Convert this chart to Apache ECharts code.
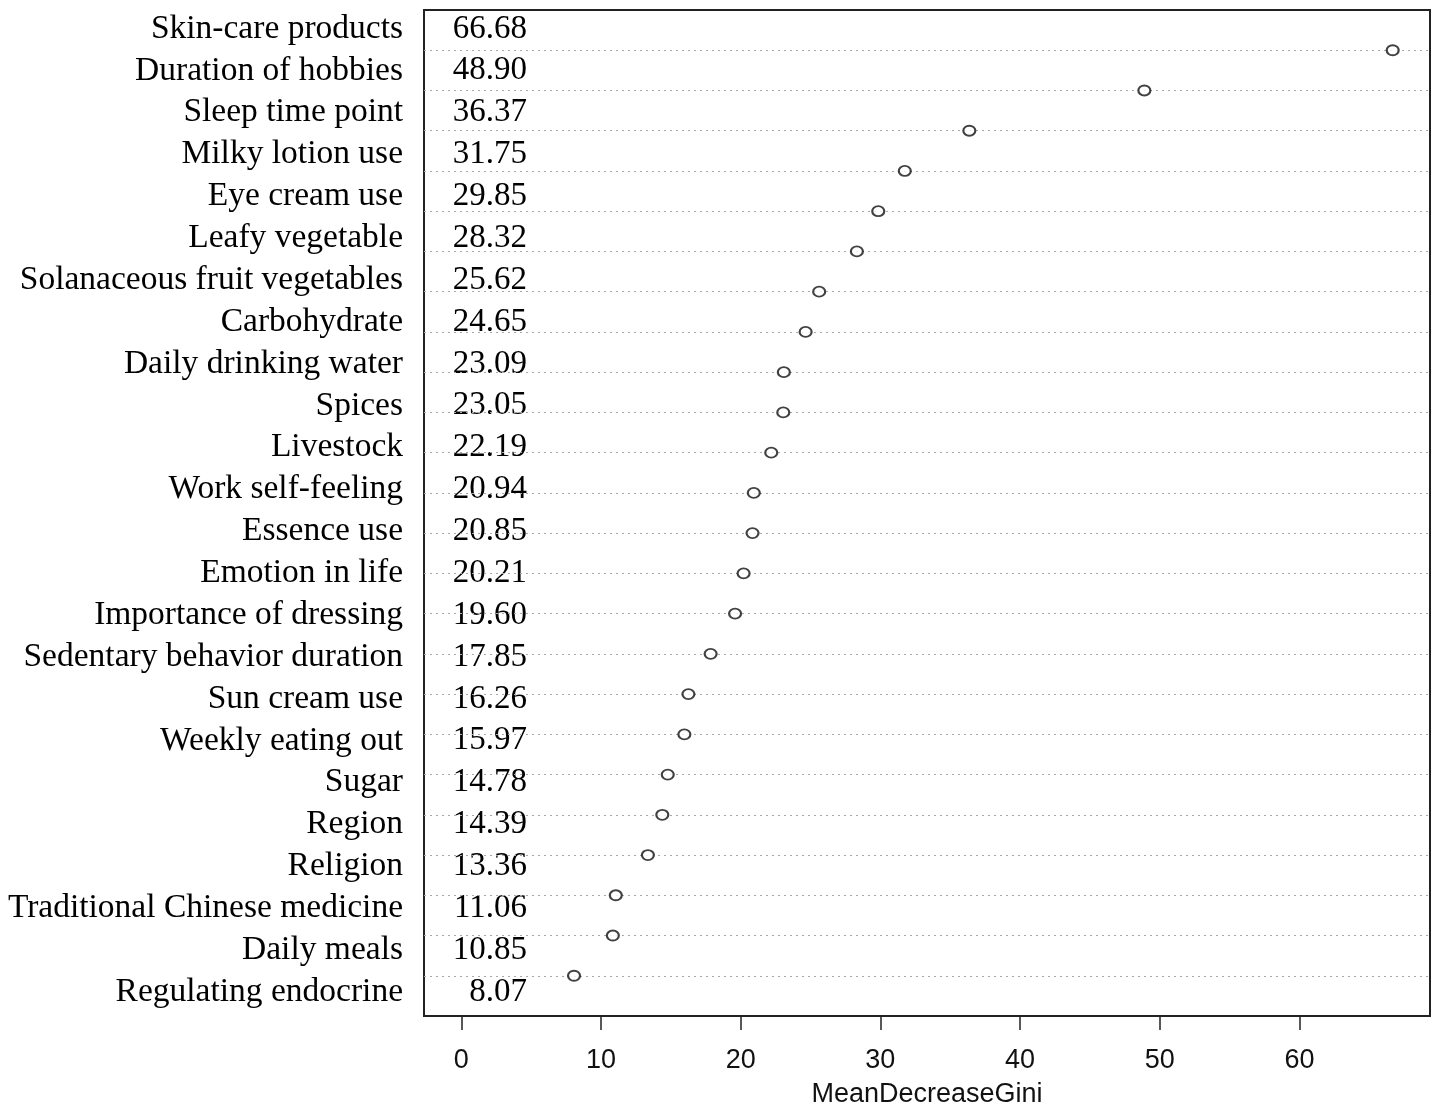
<!DOCTYPE html>
<html>
<head>
<meta charset="utf-8">
<script src="https://cdn.jsdelivr.net/npm/echarts@6/dist/echarts.min.js"></script>
<style>
html,body{margin:0;padding:0;background:#fff;}
#chart{width:1442px;height:1107px;}
</style>
</head>
<body>
<div id="chart"></div>
<script>
const categories = [
  "Skin-care products","Duration of hobbies","Sleep time point","Milky lotion use",
  "Eye cream use","Leafy vegetable","Solanaceous fruit vegetables","Carbohydrate",
  "Daily drinking water","Spices","Livestock","Work self-feeling","Essence use",
  "Emotion in life","Importance of dressing","Sedentary behavior duration",
  "Sun cream use","Weekly eating out","Sugar","Region","Religion",
  "Traditional Chinese medicine","Daily meals","Regulating endocrine"
];
const values = [66.68,48.90,36.37,31.75,29.85,28.32,25.62,24.65,23.09,23.05,22.19,20.94,20.85,20.21,19.60,17.85,16.26,15.97,14.78,14.39,13.36,11.06,10.85,8.07];
const xTicks = [0,10,20,30,40,50,60];

const n = categories.length;
const ranks = categories.map((c,i)=> n - i);
const points = values.map((v,i)=>[v, ranks[i]]);
const valueLabels = values.map(v=>v.toFixed(2));

const chart = echarts.init(document.getElementById('chart'), null, {renderer:'canvas'});
const serif = '"Liberation Serif","Times New Roman",serif';
const sans = '"Liberation Sans",Arial,sans-serif';
chart.setOption({
  animation:false,
  backgroundColor:'#fff',
  grid:[
    {left:424, top:10, width:1006, height:1006, show:true, borderColor:'#222', borderWidth:2, backgroundColor:'transparent', outerBoundsMode:'none', containLabel:false},
    {left:424, top:8, width:1006, height:1005, show:false, outerBoundsMode:'none', containLabel:false}
  ],
  xAxis:[
    {type:'value', gridIndex:0, min:-2.67, max:69.35, position:'bottom',
     axisLine:{show:false},
     axisTick:{show:true, customValues:xTicks, length:14, lineStyle:{color:'#222', width:1.5}},
     axisLabel:{show:true, customValues:xTicks, margin:31, color:'#111', fontSize:27, fontFamily:sans},
     splitLine:{show:false},
     name:'MeanDecreaseGini', nameLocation:'middle', nameGap:65,
     nameTextStyle:{color:'#111', fontSize:27, fontFamily:sans}},
    {type:'value', gridIndex:1, show:false, min:0, max:1}
  ],
  yAxis:[
    {type:'value', gridIndex:0, min:0, max:n+1, axisLine:{show:false}, axisTick:{show:false}, axisLabel:{show:false}, splitLine:{show:false}},
    {type:'category', gridIndex:1, data:categories, inverse:true, position:'left',
     axisLine:{show:false}, axisTick:{show:false}, splitLine:{show:false},
     axisLabel:{interval:0, hideOverlap:false, margin:21, color:'#000', fontSize:33.5, fontFamily:serif}},
    {type:'category', gridIndex:1, data:valueLabels, inverse:true, position:'left', offset:-103,
     axisLine:{show:false}, axisTick:{show:false}, splitLine:{show:false},
     axisLabel:{interval:0, hideOverlap:false, margin:0, color:'#000', fontSize:33, fontFamily:serif, align:'right'}}
  ],
  series:[
    {type:'scatter', xAxisIndex:0, yAxisIndex:0, data:points,
     symbol:'circle', symbolSize:[12,10],
     itemStyle:{color:'#fff', borderColor:'#111', borderWidth:2},
     z:5,
     markLine:{silent:true, symbol:'none', label:{show:false},
       lineStyle:{color:'#a8a8a8', width:1.2, type:[2,4]},
       data: ranks.map(r=>({yAxis:r}))}
    }
  ]
});
</script>
</body>
</html>
